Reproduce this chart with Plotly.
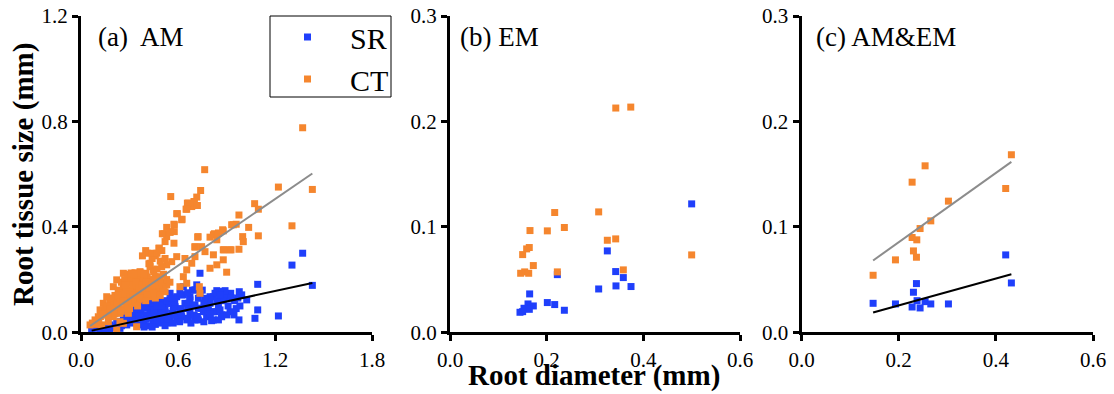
import plotly.graph_objects as go

# ---------------- data ----------------
# (a) AM : root diameter (mm) vs root tissue size (mm)
am_sr_x = [1.371, 1.305, 1.431, 1.093, 1.221, 1.093, 1.076, 0.977, 0.946, 0.922, 0.983, 1.025, 0.994, 0.979,
           0.926, 0.880, 0.840, 0.891, 0.819, 0.798, 0.829, 0.870, 0.819, 0.777, 0.736, 0.736, 0.716, 0.674,
           0.633, 0.726, 0.757, 0.705, 0.654, 0.674, 0.612, 0.551, 0.530, 0.571, 0.509, 0.478, 0.447, 0.427,
           0.396, 0.365, 0.344, 0.324, 0.293, 0.262, 0.241, 0.221, 0.179, 0.138, 0.097, 0.066, 0.509, 0.468,
           0.406, 0.375, 0.551, 0.592, 0.643, 0.385, 0.447, 0.509, 0.551, 0.592, 0.489, 0.427, 0.334, 0.283,
           0.241, 0.179, 0.365, 0.891, 0.860, 0.829, 0.798, 0.767, 0.726, 0.674, 0.623, 0.664, 0.705, 0.746,
           0.788, 0.819, 0.870, 0.901, 0.850, 0.808, 0.726, 0.664, 0.623, 0.561, 0.520, 0.478, 0.582, 0.540,
           0.499, 0.633, 0.612, 0.705, 0.330, 0.360, 0.400, 0.430, 0.460, 0.300, 0.280, 0.310, 0.350, 0.390,
           0.420, 0.460, 0.490, 0.530, 0.200, 0.160, 0.120, 0.250, 0.450, 0.480, 0.520, 0.570, 0.600, 0.620,
           0.580, 0.690, 0.760, 0.700, 0.780, 0.850, 0.880, 0.950, 0.960, 0.910, 0.860,
           0.280, 0.310, 0.340, 0.370, 0.410, 0.440, 0.470, 0.500, 0.530, 0.560, 0.320, 0.360, 0.400, 0.430,
           0.470, 0.500, 0.540, 0.580, 0.620, 0.660, 0.270, 0.230, 0.190, 0.150, 0.390, 0.440, 0.520, 0.570,
           0.610, 0.680, 0.720, 0.760, 0.800, 0.840, 0.860, 0.930, 0.970, 0.750, 0.690, 0.660]
am_sr_y = [0.300, 0.255, 0.178, 0.182, 0.062, 0.085, 0.053, 0.047, 0.066, 0.078, 0.100, 0.123, 0.142, 0.154,
           0.148, 0.154, 0.158, 0.133, 0.135, 0.110, 0.078, 0.059, 0.047, 0.059, 0.148, 0.224, 0.180, 0.123,
           0.142, 0.091, 0.078, 0.047, 0.047, 0.072, 0.072, 0.123, 0.110, 0.097, 0.091, 0.078, 0.097, 0.085,
           0.091, 0.078, 0.072, 0.059, 0.053, 0.047, 0.040, 0.034, 0.028, 0.021, 0.015, 0.009, 0.116, 0.116,
           0.110, 0.104, 0.148, 0.135, 0.110, 0.047, 0.040, 0.047, 0.059, 0.047, 0.059, 0.053, 0.040, 0.028,
           0.015, 0.009, 0.028, 0.158, 0.154, 0.148, 0.135, 0.129, 0.129, 0.135, 0.142, 0.110, 0.104, 0.091,
           0.085, 0.078, 0.066, 0.066, 0.047, 0.044, 0.047, 0.053, 0.059, 0.072, 0.085, 0.097, 0.097, 0.110,
           0.116, 0.173, 0.148, 0.161, 0.090, 0.100, 0.065, 0.070, 0.065, 0.070, 0.060, 0.035, 0.055, 0.035,
           0.025, 0.030, 0.035, 0.035, 0.020, 0.015, 0.010, 0.025, 0.085, 0.105, 0.075, 0.080, 0.060, 0.090,
           0.115, 0.100, 0.110, 0.065, 0.095, 0.100, 0.120, 0.120, 0.090, 0.100, 0.085,
           0.070, 0.080, 0.090, 0.090, 0.100, 0.110, 0.100, 0.100, 0.120, 0.130, 0.045, 0.060, 0.050, 0.060,
           0.045, 0.065, 0.050, 0.065, 0.075, 0.090, 0.035, 0.025, 0.020, 0.012, 0.020, 0.020, 0.025, 0.035,
           0.040, 0.035, 0.060, 0.040, 0.070, 0.120, 0.140, 0.130, 0.130, 0.160, 0.160, 0.150]

am_ct_x = [1.371, 0.765, 1.431, 1.221, 0.555, 0.740, 0.716, 0.699, 0.658, 0.685, 0.650, 1.074, 1.097, 0.596,
           0.625, 0.577, 0.530, 0.555, 0.513, 0.577, 0.977, 1.037, 1.097, 1.305, 0.942, 0.960, 0.876, 0.850,
           0.819, 0.840, 1.000, 1.004, 0.977, 0.724, 0.746, 0.705, 0.767, 0.819, 0.885, 0.922, 0.880, 0.840,
           0.798, 0.901, 0.705, 0.685, 0.654, 0.633, 0.654, 0.612, 0.643, 0.592, 0.561, 0.530, 0.499, 0.447,
           0.402, 0.334, 0.293, 0.410, 0.484, 0.427, 0.530, 0.575, 0.056, 0.087, 0.107, 0.138, 0.159, 0.179,
           0.200, 0.221, 0.241, 0.262, 0.252, 0.283, 0.303, 0.324, 0.344, 0.365, 0.385, 0.406, 0.427, 0.447,
           0.468, 0.489, 0.509, 0.530, 0.520, 0.478, 0.437, 0.396, 0.355, 0.324, 0.283, 0.241, 0.200, 0.169,
           0.128, 0.293, 0.344, 0.262, 0.221, 0.262, 0.221, 0.200, 0.159, 0.138, 0.118, 0.427, 0.365, 0.458,
           0.732, 0.736, 0.070, 0.090, 0.110, 0.130, 0.150, 0.170, 0.190, 0.210, 0.230, 0.250, 0.270, 0.310,
           0.330, 0.350, 0.370, 0.390, 0.410, 0.430, 0.450, 0.470, 0.490, 0.510, 0.280, 0.300, 0.320, 0.340,
           0.360, 0.380, 0.400, 0.420, 0.440, 0.460, 0.190, 0.230, 0.270, 0.310, 0.250, 0.215, 0.241, 0.664,
           0.701, 0.720, 0.654, 0.592, 0.623, 0.575, 0.551, 0.503, 0.520, 0.482, 0.722, 0.825, 0.880, 0.932,
           0.705, 0.798, 0.850, 0.880, 0.928,
           0.120, 0.140, 0.160, 0.180, 0.200, 0.220, 0.240, 0.260, 0.280, 0.300, 0.320, 0.340, 0.360, 0.380,
           0.400, 0.420, 0.440, 0.460, 0.480, 0.500, 0.290, 0.310, 0.330, 0.370, 0.390, 0.450, 0.470, 0.420,
           0.440, 0.460, 0.490, 0.510, 0.530, 0.550, 0.380, 0.400, 0.440, 0.470, 0.500, 0.520, 0.270, 0.230,
           0.260, 0.290, 0.330, 0.370, 0.410, 0.450, 0.490, 0.170, 0.210, 0.250, 0.300, 0.350, 0.400]
am_ct_y = [0.776, 0.617, 0.542, 0.551, 0.515, 0.538, 0.513, 0.496, 0.490, 0.477, 0.467, 0.488, 0.467, 0.450,
           0.429, 0.408, 0.398, 0.382, 0.374, 0.382, 0.445, 0.398, 0.366, 0.404, 0.408, 0.410, 0.389, 0.376,
           0.370, 0.351, 0.363, 0.344, 0.315, 0.363, 0.325, 0.325, 0.306, 0.294, 0.313, 0.313, 0.275, 0.256,
           0.243, 0.228, 0.287, 0.262, 0.237, 0.211, 0.186, 0.173, 0.280, 0.287, 0.268, 0.256, 0.249, 0.237,
           0.224, 0.226, 0.214, 0.300, 0.319, 0.262, 0.363, 0.338, 0.028, 0.047, 0.059, 0.085, 0.072, 0.110,
           0.097, 0.123, 0.148, 0.173, 0.123, 0.154, 0.186, 0.161, 0.173, 0.192, 0.161, 0.180, 0.199, 0.173,
           0.192, 0.211, 0.186, 0.180, 0.154, 0.148, 0.135, 0.129, 0.123, 0.110, 0.097, 0.072, 0.059, 0.040,
           0.028, 0.072, 0.021, 0.034, 0.009, 0.224, 0.199, 0.173, 0.135, 0.110, 0.085, 0.249, 0.230, 0.211,
           0.173, 0.148, 0.035, 0.030, 0.045, 0.065, 0.090, 0.080, 0.120, 0.140, 0.160, 0.190, 0.200, 0.210,
           0.200, 0.210, 0.180, 0.200, 0.210, 0.190, 0.200, 0.170, 0.160, 0.170, 0.130, 0.140, 0.130, 0.150,
           0.140, 0.150, 0.160, 0.150, 0.155, 0.130, 0.080, 0.100, 0.115, 0.120, 0.090, 0.085, 0.040, 0.490,
           0.496, 0.481, 0.467, 0.450, 0.427, 0.410, 0.379, 0.374, 0.344, 0.319, 0.361, 0.374, 0.385, 0.408,
           0.323, 0.361, 0.376, 0.313, 0.313,
           0.060, 0.070, 0.100, 0.090, 0.130, 0.110, 0.130, 0.150, 0.170, 0.160, 0.180, 0.190, 0.170, 0.180,
           0.190, 0.170, 0.180, 0.200, 0.180, 0.190, 0.220, 0.225, 0.220, 0.225, 0.220, 0.230, 0.240, 0.260,
           0.280, 0.290, 0.270, 0.220, 0.200, 0.190, 0.290, 0.310, 0.300, 0.300, 0.310, 0.280, 0.180, 0.140,
           0.120, 0.120, 0.140, 0.130, 0.140, 0.150, 0.140, 0.060, 0.070, 0.080, 0.090, 0.100, 0.120]

# (b) EM
em_sr_x = [0.500, 0.3255, 0.3428, 0.3586, 0.3434, 0.3745, 0.3076, 0.2221, 0.1648, 0.2014, 0.2166, 0.2366,
           0.1614, 0.1531, 0.1724, 0.1641, 0.1448, 0.1503]
em_sr_y = [0.1218, 0.0772, 0.0576, 0.0519, 0.0440, 0.0434, 0.0411, 0.0547, 0.0364, 0.0282, 0.0263, 0.0209,
           0.0269, 0.0228, 0.0250, 0.0218, 0.0190, 0.0196]
em_ct_x = [0.343, 0.374, 0.2166, 0.3076, 0.2366, 0.2014, 0.1655, 0.164, 0.1586, 0.1503, 0.3255, 0.3428,
           0.500, 0.1724, 0.1545, 0.1462, 0.1628, 0.2221, 0.3586]
em_ct_y = [0.2127, 0.2136, 0.1136, 0.1142, 0.0994, 0.0962, 0.0965, 0.0804, 0.0791, 0.0737, 0.0873, 0.0886,
           0.0734, 0.0633, 0.0573, 0.0560, 0.0560, 0.0573, 0.0592]

# (c) AM&EM
mix_sr_x = [0.4203, 0.432, 0.2366, 0.2304, 0.2379, 0.2544, 0.2661, 0.3024, 0.1934, 0.1474, 0.2277, 0.2441]
mix_sr_y = [0.0734, 0.0468, 0.0462, 0.0380, 0.0300, 0.0291, 0.0269, 0.0269, 0.0269, 0.0275, 0.0240, 0.0231]
mix_ct_x = [0.432, 0.2544, 0.2277, 0.4203, 0.3024, 0.2661, 0.2441, 0.2277, 0.2373, 0.2304, 0.2366, 0.1934,
            0.1474]
mix_ct_y = [0.1684, 0.1579, 0.1424, 0.1364, 0.1244, 0.1057, 0.0984, 0.0899, 0.0877, 0.0772, 0.0712, 0.0687,
            0.0541]

# linear fits: (slope, intercept)
am_sr_fit = (0.1325, -0.0024)
am_ct_fit = (0.4207, 0.0004)
mix_sr_fit = (0.1274, 0.0000)
mix_ct_fit = (0.3285, 0.0197)

panel_labels = ["(a)  AM", "(b) EM", "(c) AM&EM"]
x_ranges = [[0, 1.8], [0, 0.6], [0, 0.6]]
y_ranges = [[0, 1.2], [0, 0.3], [0, 0.3]]
x_ticks = [[0.0, 0.6, 1.2, 1.8], [0.0, 0.2, 0.4, 0.6], [0.0, 0.2, 0.4, 0.6]]
y_ticks = [[0.0, 0.4, 0.8, 1.2], [0.0, 0.1, 0.2, 0.3], [0.0, 0.1, 0.2, 0.3]]

# ---------------- styling ----------------
W, H = 1114, 394
SR_COLOR = "#1f3ffb"
CT_COLOR = "#f5862e"
SERIF = "Liberation Serif"

x_domains = [[81 / W, 372 / W], [450 / W, 740 / W], [801.5 / W, 1093 / W]]
y_domain = [1 - 332.3 / H, 1 - 16 / H]

fig = go.Figure()


def add_points(xs, ys, color, name, axis, show):
    fig.add_trace(go.Scatter(
        x=xs, y=ys, mode="markers", name=name, legendgroup=name, showlegend=show,
        marker=dict(symbol="square", size=7, color=color, line=dict(width=0)),
        xaxis="x" + axis, yaxis="y" + axis, cliponaxis=False,
    ))


def add_fit(xs, fit, color, axis):
    x0, x1 = min(xs), max(xs)
    slope, icpt = fit
    fig.add_trace(go.Scatter(
        x=[x0, x1], y=[icpt + slope * x0, icpt + slope * x1], mode="lines",
        line=dict(color=color, width=2), showlegend=False, hoverinfo="skip",
        xaxis="x" + axis, yaxis="y" + axis,
    ))


add_points(am_sr_x, am_sr_y, SR_COLOR, "SR", "", True)
add_points(am_ct_x, am_ct_y, CT_COLOR, "CT", "", True)
add_fit(am_ct_x, am_ct_fit, "#8c8c8c", "")
add_fit(am_sr_x, am_sr_fit, "black", "")

add_points(em_sr_x, em_sr_y, SR_COLOR, "SR", "2", False)
add_points(em_ct_x, em_ct_y, CT_COLOR, "CT", "2", False)

add_points(mix_sr_x, mix_sr_y, SR_COLOR, "SR", "3", False)
add_points(mix_ct_x, mix_ct_y, CT_COLOR, "CT", "3", False)
add_fit(mix_ct_x, mix_ct_fit, "#8c8c8c", "3")
add_fit(mix_sr_x, mix_sr_fit, "black", "3")

tick_font = dict(family=SERIF, size=21, color="black")
layout = dict(
    width=W, height=H,
    margin=dict(l=0, r=0, t=0, b=0, pad=0),
    paper_bgcolor="white", plot_bgcolor="white",
    showlegend=True,
    legend=dict(
        x=265 / W, y=1 - 11 / H, xanchor="left", yanchor="top",
        borderwidth=0, bgcolor="rgba(0,0,0,0)",
        font=dict(family=SERIF, size=30, color="black"),
        itemwidth=75, tracegroupgap=0,
    ),
    # legend frame
    shapes=[dict(type="rect", xref="paper", yref="paper", x0=270 / W, x1=391 / W,
                 y0=1 - 97 / H, y1=1 - 16 / H, line=dict(color="black", width=1),
                 fillcolor="rgba(0,0,0,0)", layer="above")],
)
for i in range(3):
    sfx = "" if i == 0 else str(i + 1)
    common = dict(
        showline=True, linewidth=3, linecolor="black", ticks="outside", ticklen=6,
        tickwidth=3, tickcolor="black", showgrid=False, zeroline=False,
        tickfont=tick_font, fixedrange=True, automargin=False,
    )
    layout["xaxis" + sfx] = dict(
        domain=x_domains[i], range=x_ranges[i], tickvals=x_ticks[i],
        ticktext=[f"{v:.1f}" for v in x_ticks[i]], anchor="y" + sfx, **common,
    )
    layout["yaxis" + sfx] = dict(
        domain=y_domain, range=y_ranges[i], tickvals=y_ticks[i],
        ticktext=[f"{v:.1f}" for v in y_ticks[i]], anchor="x" + sfx, **common,
    )
fig.update_layout(**layout)

# panel labels
label_x = [96, 458, 814]
for lx, txt in zip(label_x, panel_labels):
    fig.add_annotation(
        x=lx / W, y=1 - 37 / H, xref="paper", yref="paper", xanchor="left", yanchor="middle",
        text=txt, showarrow=False, font=dict(family=SERIF, size=27, color="black"),
    )

# axis titles
fig.add_annotation(
    x=594 / W, y=1 - 375 / H, xref="paper", yref="paper", xanchor="center", yanchor="middle",
    text="<b>Root diameter (mm)</b>", showarrow=False,
    font=dict(family=SERIF, size=29, color="black"),
)
fig.add_annotation(
    x=24 / W, y=1 - 175 / H, xref="paper", yref="paper", xanchor="center", yanchor="middle",
    text="<b>Root tissue size (mm)</b>", showarrow=False, textangle=-90,
    font=dict(family=SERIF, size=29, color="black"),
)

fig.write_html("out.html")
